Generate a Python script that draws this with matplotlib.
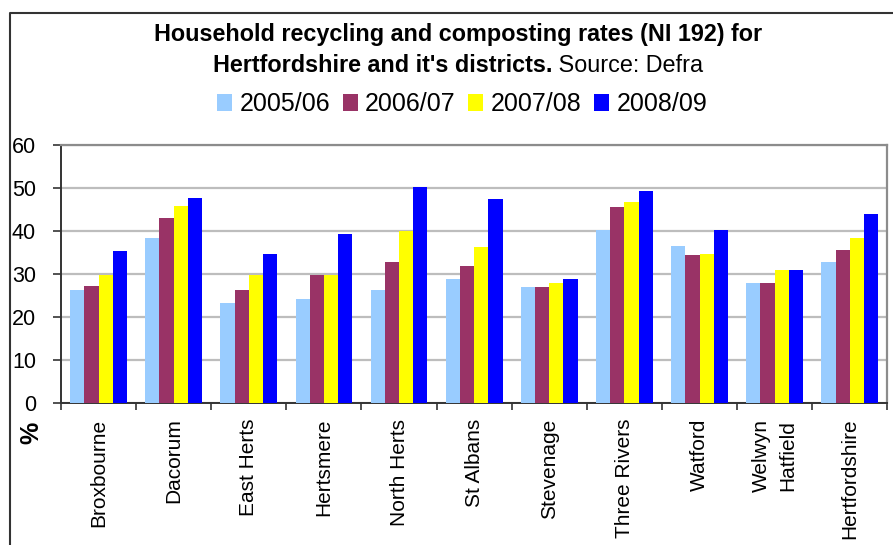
import numpy as np
import matplotlib
matplotlib.use("Agg")
import matplotlib.pyplot as plt
from matplotlib.patches import Patch
from matplotlib.lines import Line2D

plt.rcParams["font.family"] = ["Liberation Sans", "DejaVu Sans"]

# --------------------------- data ---------------------------
districts = ["Broxbourne", "Dacorum", "East Herts", "Hertsmere", "North Herts",
             "St Albans", "Stevenage", "Three Rivers", "Watford",
             "Welwyn\nHatfield", "Hertfordshire"]
years = ["2005/06", "2006/07", "2007/08", "2008/09"]
rate_0506 = [26.4, 38.4, 23.3, 24.3, 26.4, 28.9, 27.1, 40.3, 36.6, 28.0, 32.9]
rate_0607 = [27.3, 43.1, 26.4, 29.8, 32.9, 31.9, 27.1, 45.7, 34.5, 28.0, 35.7]
rate_0708 = [29.8, 45.9, 29.8, 29.8, 40.1, 36.4, 28.0, 46.8, 34.7, 31.0, 38.4]
rate_0809 = [35.4, 47.8, 34.7, 39.4, 50.3, 47.5, 28.9, 49.4, 40.3, 31.0, 44.0]
series = [rate_0506, rate_0607, rate_0708, rate_0809]
colors = ["#99CCFF", "#993366", "#FFFF00", "#0000FF"]
yticks = [0, 10, 20, 30, 40, 50, 60]

W, H = 893, 545
fig = plt.figure(figsize=(W / 100, H / 100), dpi=100)
ax = fig.add_axes([61 / W, 1 - 403.3 / H, 826.3 / W, 258 / H])

x = np.arange(len(districts))
bw = 0.189
for i, (vals, c) in enumerate(zip(series, colors)):
    ax.bar(x + (i - 1.5) * bw, vals, width=bw, color=c, edgecolor="none",
           zorder=3, label=years[i])

ax.set_xlim(-0.5, len(districts) - 0.5)
ax.set_ylim(0, 60)
ax.set_yticks(yticks)
ax.set_yticklabels([str(v) for v in yticks], fontsize=15.5)
ax.yaxis.grid(True, color="#BDBDBD", linewidth=1.6, zorder=0)
ax.set_axisbelow(True)

# category boundary ticks on x axis, labels at centres
ax.set_xticks(np.arange(len(districts) + 1) - 0.5)
ax.set_xticklabels([])
ax.set_xticks(x, minor=True)
ax.set_xticklabels(districts, minor=True, rotation=90, fontsize=15,
                   va="top", ha="center", linespacing=1.45)
ax.tick_params(axis="x", which="minor", length=0, pad=11)
ax.tick_params(axis="x", which="major", length=5, width=1.2, color="#333333")
ax.tick_params(axis="y", length=6, width=1.2, color="#333333", pad=12)

for side in ["top", "right"]:
    ax.spines[side].set_color("#8C8C8C")
    ax.spines[side].set_linewidth(1.6)
ax.spines["left"].set_color("#333333")
ax.spines["bottom"].set_color("#333333")
ax.spines["left"].set_linewidth(1.4)
ax.spines["bottom"].set_linewidth(1.4)

# "%" axis label under the value axis
fig.text(31 / W, 1 - 433 / H, "%", rotation=90, fontsize=18, fontweight="bold",
         ha="center", va="center")

# title, first line bold, second line bold + normal
cx = 458 / W
fig.text(cx, 1 - 34 / H, "Household recycling and composting rates (NI 192) for",
         fontsize=16.8, fontweight="bold", ha="center", va="center")
renderer = fig.canvas.get_renderer()
t_bold = fig.text(0, 1 - 66 / H, "Hertfordshire and it's districts.",
                  fontsize=16.8, fontweight="bold", ha="left", va="center")
t_norm = fig.text(0, 1 - 66 / H, " Source: Defra",
                  fontsize=16.8, ha="left", va="center")
wb = t_bold.get_window_extent(renderer).width
wn = t_norm.get_window_extent(renderer).width
x0 = cx * W - (wb + wn) / 2
t_bold.set_x(x0 / W)
t_norm.set_x((x0 + wb) / W)

handles = [Patch(facecolor=c, edgecolor="none") for c in colors]
fig.legend(handles, years, loc="center", bbox_to_anchor=(462 / W, 1 - 104 / H),
           ncol=4, frameon=False, fontsize=18, handlelength=0.6,
           handleheight=0.65, handletextpad=0.3, columnspacing=0.5,
           borderpad=0)

# outer chart frame (left and top edges visible)
fig.add_artist(Line2D([10 / W, 10 / W, 1.2], [-0.2, 1 - 13 / H, 1 - 13 / H],
                      transform=fig.transFigure, color="#333333", linewidth=1.5))

fig.savefig("out.png", dpi=100)
